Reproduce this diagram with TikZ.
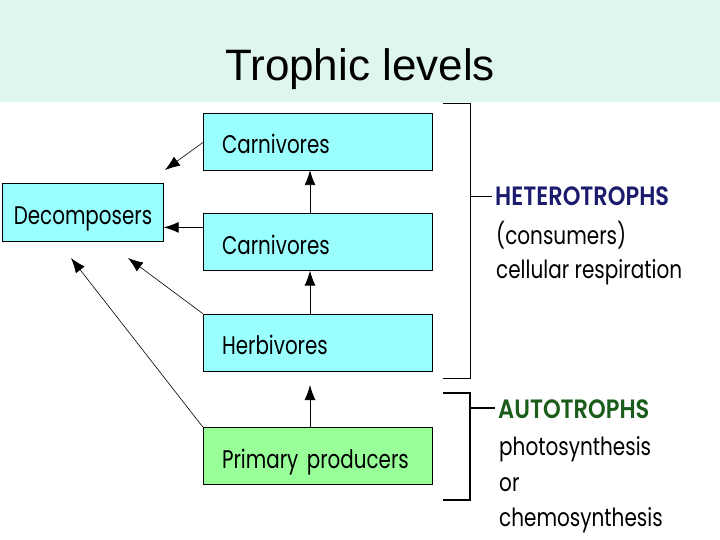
\documentclass[tikz,border=0pt]{standalone}
\usepackage{fontspec}
\setmainfont{Liberation Sans}
\newfontfamily\labelfont[FakeStretch=0.78]{Poppins}
\newfontfamily\notefont[FakeStretch=0.8]{Poppins}
\newfontfamily\headfont[FakeStretch=0.85]{Poppins SemiBold}
\usetikzlibrary{positioning,arrows.meta}
\definecolor{bandteal}{RGB}{222,245,240}
\definecolor{boxcyan}{RGB}{153,255,255}
\definecolor{boxgreen}{RGB}{153,255,153}
\definecolor{heteronavy}{RGB}{28,28,110}
\definecolor{autogreen}{RGB}{26,92,26}
\begin{document}
\begin{tikzpicture}[x=1pt, y=-1pt, node distance=43pt]
        % Define styles
        \tikzstyle{level} = [rectangle, draw=black, fill=boxcyan, minimum height=57pt, text width=191pt, inner xsep=19pt, text height=25pt, text depth=0pt, align=left, font=\labelfont\fontsize{25.5}{25.5}\selectfont]
        \tikzstyle{producer} = [level, fill=boxgreen]
        \tikzstyle{arrow} = [line width=0.9pt, -{Latex[length=15pt, width=11pt]}]
        \tikzstyle{thinarrow} = [line width=0.6pt, -{Latex[length=15pt, width=11pt]}]
        \tikzstyle{bracket} = [line width=1pt]
        \tikzstyle{note} = [anchor=base west, inner sep=0pt, font=\notefont\fontsize{25}{25}\selectfont]
        \tikzstyle{heading} = [note, font=\headfont\fontsize{26.5}{26.5}\selectfont]

        \useasboundingbox (0,0) rectangle (720,540);
        \fill[white] (0,0) rectangle (720,540);
        \fill[bandteal] (0,0) rectangle (720,102);

        % Title
        \node (title) at (360,69) {\fontsize{44}{44}\selectfont Trophic levels};

        % Nodes
        \node (carnB) [level] at (317.5,141.5) {Carnivores};
        \node (carnA) [level, below=of carnB] {Carnivores};
        \node (herb) [level, below=of carnA] {Herbivores};
        \node (prim) [producer, below=56pt of herb] {\mbox{Primary producers}};
        \node (decomp) [level, text width=141pt, inner xsep=10pt, align=center, minimum height=58pt] at (83,212) {Decomposers};

        % Free arrow ends
        \coordinate (tipB) at (165,170);
        \coordinate (tipH) at (128,258);
        \coordinate (tipP) at (71,258);

        % Arrows
        \draw [arrow] ([xshift=-7.5pt]carnA.north) -- ([xshift=-7.5pt]carnB.south);
        \draw [arrow] ([xshift=-7.5pt]herb.north) -- ([xshift=-7.5pt]carnA.south);
        \draw [arrow, shorten >=14pt] ([xshift=-7.5pt]prim.north) -- ([xshift=-7.5pt]herb.south);
        \draw [arrow] ([yshift=14.5pt]carnA.west) -- ([yshift=14.5pt]carnA.west -| decomp.east);
        \draw [thinarrow] ([yshift=-1pt]carnB.west) -- (tipB);
        \draw [thinarrow] (herb.north west) -- (tipH);
        \draw [thinarrow] (prim.north west) -- (tipP);

        % Brackets
        \draw [bracket] (443,104) -- (470,104) -- (470,378) -- (443,378);
        \draw [bracket] (470,197) -- (492,197);
        \draw [bracket, line width=1.5pt] (443,393) -- (470,393) -- (470,500) -- (443,500);
        \draw [bracket, line width=1.5pt] (470,408) -- (495,408);

        % Labels
        \node (hetero) [heading, text=heteronavy] at (495,206) {HETEROTROPHS};
        \node (cons) [note] at (496,244) {(consumers)};
        \node (resp) [note] at (496,278) {cellular respiration};
        \node (auto) [heading, text=autogreen] at (498,418) {AUTOTROPHS};
        \node (photo) [note] at (499,455) {photosynthesis};
        \node (or) [note] at (499,491) {or};
        \node (chemo) [note] at (499,526) {chemosynthesis};
\end{tikzpicture}
\end{document}
